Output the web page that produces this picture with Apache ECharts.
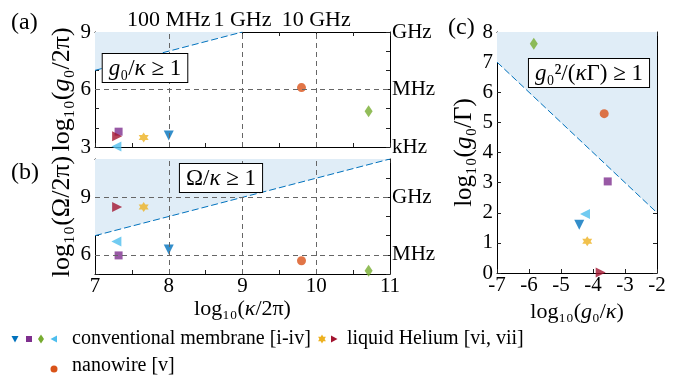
<!DOCTYPE html>
<html>
<head>
<meta charset="utf-8">
<script src="https://cdn.jsdelivr.net/npm/echarts@6/dist/echarts.min.js"></script>
<style>
  html, body { margin: 0; padding: 0; background: #fff; }
  #main { width: 683px; height: 375px; }
</style>
</head>
<body>
<div id="main"></div>
<script>
// one entry per experiment: membranes [i]-[iv], nanowire [v], liquid helium [vi], [vii]
var names = ['i', 'ii', 'iii', 'iv', 'v', 'vi', 'vii'];
var logKappa = [8.0, 7.32, 10.71, 7.29, 9.8, 7.66, 7.3];       // log10(kappa/2pi)
var logG0 = [3.6, 3.8, 4.86, 3.03, 6.1, 3.49, 3.56];            // log10(g0/2pi)
var logOmega = [6.28, 5.97, 5.17, 6.69, 5.69, 8.5, 8.5];        // log10(Omega/2pi)
var logG0Kappa = [-4.43, -3.54, -5.85, -4.25, -3.65, -4.18, -3.76]; // log10(g0/kappa)
var logG0Gamma = [1.6, 3.04, 7.61, 1.96, 5.29, 1.05, 0.02];      // log10(g0/Gamma)

// threshold lines (shaded above)
var lineA = [[7, 7], [9, 9]];     // g0 = kappa
var lineB = [[7, 7], [11, 11]];   // Omega = kappa
var lineC = [[-7, 7], [-2, 2]];   // g0^2 = kappa*Gamma

var topLabelsA = {8: '100 MHz', 9: '1 GHz', 10: '10 GHz'};
var rightLabelsA = {3: 'kHz', 6: 'MHz', 9: 'GHz'};
var rightLabelsB = {6: 'MHz', 9: 'GHz'};
var leftLabelsB = {6: '6', 9: '9'};

var font = 'Liberation Serif';

function hexagram(r, cx, cy) {
  var p = [];
  for (var k = 0; k < 12; k++) {
    var rr = k % 2 ? r * 0.577 : r;
    var a = -Math.PI / 2 + k * Math.PI / 6;
    p.push([cx + rr * Math.cos(a), cy + rr * Math.sin(a)]);
  }
  return p;
}
var starPath = 'path://' + hexagram(50, 50, 50).map(function (q, i) {
  return (i ? 'L' : 'M') + q[0].toFixed(1) + ' ' + q[1].toFixed(1);
}).join('') + 'Z';

var marks = [
  {symbol: 'triangle', rotate: 180, size: 10, color: '#0072BD'},
  {symbol: 'rect', rotate: 0, size: 8, color: '#7E2F8E'},
  {symbol: 'diamond', rotate: 0, size: [8, 12], color: '#77AC30'},
  {symbol: 'triangle', rotate: 90, size: 10, color: '#4DBEEE'},
  {symbol: 'circle', rotate: 0, size: 9, color: '#D95319'},
  {symbol: starPath, rotate: 0, size: 10, color: '#EDB120'},
  {symbol: 'triangle', rotate: -90, size: 10, color: '#A2142F'}
];

function points(xs, ys) {
  return xs.map(function (x, i) {
    var m = marks[i];
    return {name: names[i], value: [x, ys[i]], symbol: m.symbol, symbolRotate: m.rotate,
            symbolSize: m.size, itemStyle: {color: m.color}};
  });
}

function region(data, ax) {
  return {type: 'line', xAxisIndex: ax, yAxisIndex: ax, data: data, symbol: 'none', silent: true, z: 1,
          lineStyle: {color: '#0072BD', width: 1, type: [7, 3]},
          areaStyle: {color: 'rgb(224,237,247)', opacity: 1, origin: 'end'}};
}

function gridLines(list) {
  return {silent: true, symbol: 'none', label: {show: false}, animation: false,
          lineStyle: {color: '#666', type: [5, 4], width: 1}, data: list};
}

function richOf(size) {
  return {
    t: {fontFamily: font, fontSize: size, color: '#000'},
    i: {fontFamily: font, fontSize: size, fontStyle: 'italic', color: '#000'}
  };
}

function axis(o) {
  return {
    type: 'value', gridIndex: o.grid, position: o.pos, min: o.min, max: o.max, interval: o.interval,
    axisLine: {show: true, onZero: false, lineStyle: {color: '#000', width: 1}},
    axisTick: {show: true, inside: true, length: 4, lineStyle: {color: '#222'}},
    minorTick: {show: !!o.minor, splitNumber: o.minor || 5, length: 4, lineStyle: {color: '#222'}},
    splitLine: {show: false},
    axisLabel: {show: o.labels !== false, color: '#000', fontFamily: font, fontSize: o.size || 21,
                margin: o.margin === undefined ? 4 : o.margin, formatter: o.fmt},
    name: o.name, nameLocation: 'middle', nameGap: o.gap, nameRotate: o.rot,
    nameTextStyle: {rich: richOf(o.nameSize || 22)}
  };
}

function pick(map) {
  return function (v) { return map[v] !== undefined ? map[v] : ''; };
}

var option = {
  animation: false,
  backgroundColor: '#fff',
  grid: [
    {left: 95, top: 32, width: 295, height: 115},
    {left: 95, top: 159, width: 295, height: 115},
    {left: 497, top: 32, width: 160, height: 241}
  ],
  xAxis: [
    axis({grid: 0, pos: 'bottom', min: 7, max: 11, interval: 1, minor: 2, labels: false}),
    axis({grid: 0, pos: 'top', min: 7, max: 11, interval: 1, minor: 2, fmt: pick(topLabelsA), margin: 1, size: 22}),
    axis({grid: 1, pos: 'bottom', min: 7, max: 11, interval: 1, minor: 2, margin: 2,
          name: '{t|log₁₀(}{i|κ}{t|/2π)}', gap: 20}),
    axis({grid: 1, pos: 'top', min: 7, max: 11, interval: 1, minor: 2, labels: false}),
    axis({grid: 2, pos: 'bottom', min: -7, max: -2, interval: 1, margin: 2,
          name: '{t|log₁₀(}{i|g}{t|₀/}{i|κ}{t|)}', gap: 20}),
    axis({grid: 2, pos: 'top', min: -7, max: -2, interval: 1, labels: false})
  ],
  yAxis: [
    axis({grid: 0, pos: 'left', min: 3, max: 9, interval: 3, minor: 3,
          name: '{t|log₁₀(}{i|g}{t|₀/2π)}', gap: 20, rot: 90, nameSize: 26}),
    axis({grid: 0, pos: 'right', min: 3, max: 9, interval: 3, minor: 3, fmt: pick(rightLabelsA), margin: 2}),
    axis({grid: 1, pos: 'left', min: 5, max: 11, interval: 1, fmt: pick(leftLabelsB),
          name: '{t|log₁₀(Ω/2π)}', gap: 20, rot: 90, nameSize: 26}),
    axis({grid: 1, pos: 'right', min: 5, max: 11, interval: 1, fmt: pick(rightLabelsB), margin: 2}),
    axis({grid: 2, pos: 'left', min: 0, max: 8, interval: 1,
          name: '{t|log₁₀(}{i|g}{t|₀/Γ)}', gap: 20, rot: 90, nameSize: 25}),
    axis({grid: 2, pos: 'right', min: 0, max: 8, interval: 1, labels: false})
  ],
  series: [
    region(lineA, 0),
    region(lineB, 2),
    region(lineC, 4),
    {type: 'scatter', xAxisIndex: 0, yAxisIndex: 0, z: 3, data: points(logKappa, logG0),
     markLine: gridLines([{xAxis: 8}, {xAxis: 9}, {xAxis: 10}, {yAxis: 6}])},
    {type: 'scatter', xAxisIndex: 2, yAxisIndex: 2, z: 3, data: points(logKappa, logOmega),
     markLine: gridLines([{xAxis: 8}, {xAxis: 9}, {xAxis: 10}, {yAxis: 6}, {yAxis: 9}])},
    {type: 'scatter', xAxisIndex: 4, yAxisIndex: 4, z: 3, data: points(logG0Kappa, logG0Gamma)}
  ],
  graphic: []
};

// threshold boxes and panel letters
function box(text, cx, cy) {
  return {type: 'text', x: cx, y: cy, z: 100,
          style: {text: text, rich: richOf(23), align: 'center', verticalAlign: 'middle',
                  backgroundColor: '#fff', borderColor: '#000', borderWidth: 1, padding: [3, 6, 2, 6]}};
}
function plain(text, x, y, size) {
  return {type: 'text', x: x, y: y, z: 100,
          style: {text: '{t|' + text + '}', rich: richOf(size), verticalAlign: 'middle'}};
}
option.graphic.push(
  box('{i|g}{t|₀/}{i|κ}{t| ≥ 1}', 145, 68),
  box('{t|Ω/}{i|κ}{t| ≥ 1}', 221, 178),
  box('{i|g}{t|₀²/(}{i|κ}{t|Γ) ≥ 1}', 589, 73),
  plain('(a)', 11, 23, 24),
  plain('(b)', 11, 173, 24),
  plain('(c)', 448, 28, 24)
);

// legend
function icon(kind, cx, cy, color) {
  var shape;
  if (kind === 'rect') return {type: 'rect', shape: {x: cx - 3, y: cy - 3, width: 6, height: 6}, style: {fill: color}};
  if (kind === 'circle') return {type: 'circle', shape: {cx: cx, cy: cy, r: 3.5}, style: {fill: color}};
  if (kind === 'down') shape = [[-3.5, -3], [3.5, -3], [0, 3.5]];
  if (kind === 'left') shape = [[3, -3.5], [3, 3.5], [-3.5, 0]];
  if (kind === 'right') shape = [[-3, -3.5], [-3, 3.5], [3.5, 0]];
  if (kind === 'diamond') shape = [[0, -4.5], [3, 0], [0, 4.5], [-3, 0]];
  var pts = kind === 'star' ? hexagram(4.5, cx, cy) : shape.map(function (q) { return [cx + q[0], cy + q[1]]; });
  return {type: 'polygon', shape: {points: pts}, style: {fill: color}};
}
option.graphic.push(
  icon('down', 15, 339, '#0072BD'),
  icon('rect', 29, 339, '#7E2F8E'),
  icon('diamond', 41, 339, '#77AC30'),
  icon('left', 54, 339, '#4DBEEE'),
  plain('conventional membrane [i-iv]', 72, 339, 20),
  icon('star', 322, 339, '#EDB120'),
  icon('right', 334, 339, '#A2142F'),
  plain('liquid Helium [vi, vii]', 347, 339, 20),
  icon('circle', 54, 369, '#D95319'),
  plain('nanowire [v]', 72, 366, 20)
);

var chart = echarts.init(document.getElementById('main'));
chart.setOption(option);
</script>
</body>
</html>
